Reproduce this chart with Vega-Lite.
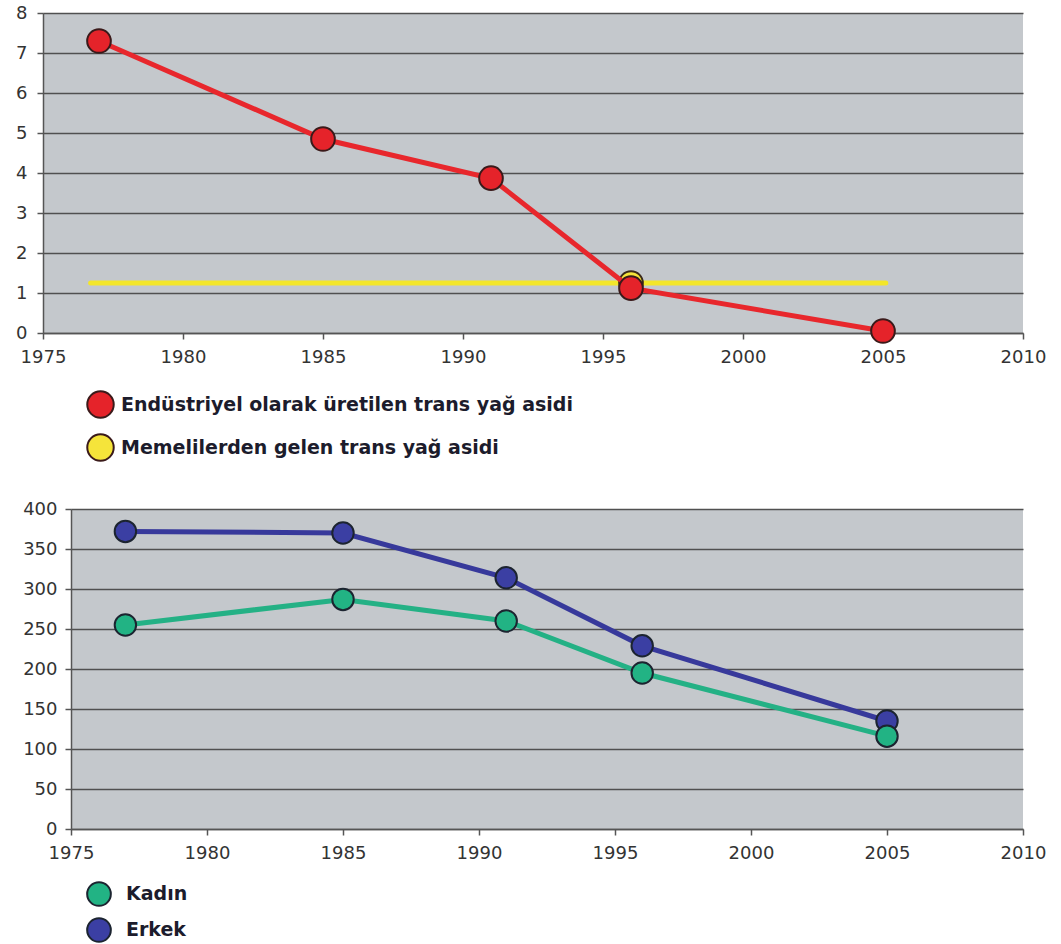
{
  "$schema": "https://vega.github.io/schema/vega-lite/v6.json",
  "background": "white",
  "padding": {"left": 15, "top": 4, "right": 5, "bottom": 0},
  "spacing": 35,
  "resolve": {"scale": {"fill": "independent"}},
  "datasets": {
    "endustriyel": [
      {"yil": 1977, "deger": 7.3, "seri": "Endüstriyel olarak üretilen trans yağ asidi"},
      {"yil": 1985, "deger": 4.85, "seri": "Endüstriyel olarak üretilen trans yağ asidi"},
      {"yil": 1991, "deger": 3.87, "seri": "Endüstriyel olarak üretilen trans yağ asidi"},
      {"yil": 1996, "deger": 1.12, "seri": "Endüstriyel olarak üretilen trans yağ asidi"},
      {"yil": 2005, "deger": 0.05, "seri": "Endüstriyel olarak üretilen trans yağ asidi"}
    ],
    "memeli_cizgi": [
      {"yil": 1976.7, "deger": 1.25, "seri": "Memelilerden gelen trans yağ asidi"},
      {"yil": 2005.1, "deger": 1.25, "seri": "Memelilerden gelen trans yağ asidi"}
    ],
    "memeli_nokta": [
      {"yil": 1996, "deger": 1.25, "seri": "Memelilerden gelen trans yağ asidi"}
    ],
    "cinsiyet": [
      {"yil": 1977, "deger": 372, "seri": "Erkek"},
      {"yil": 1985, "deger": 370, "seri": "Erkek"},
      {"yil": 1991, "deger": 314, "seri": "Erkek"},
      {"yil": 1996, "deger": 229, "seri": "Erkek"},
      {"yil": 2005, "deger": 135, "seri": "Erkek"},
      {"yil": 1977, "deger": 255, "seri": "Kadın"},
      {"yil": 1985, "deger": 287, "seri": "Kadın"},
      {"yil": 1991, "deger": 260, "seri": "Kadın"},
      {"yil": 1996, "deger": 195, "seri": "Kadın"},
      {"yil": 2005, "deger": 116, "seri": "Kadın"}
    ]
  },
  "config": {
    "view": {"stroke": null},
    "axis": {
      "title": null,
      "labelFont": "DejaVu Sans",
      "labelFontSize": 18,
      "labelColor": "#333333",
      "domainColor": "#555555",
      "domainWidth": 1.5,
      "tickColor": "#555555",
      "tickWidth": 1.5,
      "tickSize": 6,
      "gridColor": "#505050",
      "gridWidth": 1.5,
      "labelFlush": false,
      "labelOverlap": false
    },
    "legend": {
      "padding": 0,
      "symbolType": "circle",
      "symbolStrokeWidth": 2,
      "symbolOpacity": 1,
      "labelFont": "DejaVu Sans",
      "labelFontWeight": "bold",
      "labelFontSize": 19,
      "labelColor": "#1c1c2c",
      "labelLimit": 1000
    }
  },
  "vconcat": [
    {
      "width": 980,
      "height": 320,
      "view": {"fill": "#c4c8cc", "stroke": null},
      "encoding": {
        "x": {
          "field": "yil", "type": "quantitative",
          "scale": {"domain": [1975, 2010], "nice": false, "zero": false},
          "axis": {"values": [1975, 1980, 1985, 1990, 1995, 2000, 2005, 2010], "format": "d", "grid": false, "labelPadding": 9}
        },
        "y": {
          "field": "deger", "type": "quantitative",
          "scale": {"domain": [0, 8], "nice": false},
          "axis": {"values": [0, 1, 2, 3, 4, 5, 6, 7, 8], "grid": true, "labelPadding": 10}
        }
      },
      "layer": [
        {
          "data": {"name": "memeli_cizgi"},
          "mark": {"type": "line", "strokeWidth": 5, "strokeCap": "round", "stroke": "#f3e62a"},
          "encoding": {}
        },
        {
          "data": {"name": "memeli_nokta"},
          "mark": {"type": "point", "filled": true, "size": 560, "stroke": "#3a2a1a", "strokeWidth": 2, "opacity": 1},
          "encoding": {
            "fill": {
              "field": "seri", "type": "nominal",
              "scale": {"domain": ["Endüstriyel olarak üretilen trans yağ asidi", "Memelilerden gelen trans yağ asidi"], "range": ["#e5232a", "#f5e43a"]},
              "legend": {"title": null, "orient": "none", "legendX": 43, "legendY": 377, "symbolSize": 700, "symbolStrokeColor": "#3a2a2a", "labelOffset": 6, "rowPadding": 8}
            }
          }
        },
        {
          "data": {"name": "endustriyel"},
          "mark": {"type": "line", "strokeWidth": 5, "stroke": "#e8272c"},
          "encoding": {}
        },
        {
          "data": {"name": "endustriyel"},
          "mark": {"type": "point", "filled": true, "size": 560, "stroke": "#3a1a1a", "strokeWidth": 2, "opacity": 1},
          "encoding": {
            "fill": {"field": "seri", "type": "nominal"}
          }
        }
      ]
    },
    {
      "spacing": -22,
      "hconcat": [
        {
          "width": 1,
          "height": 1,
          "view": {"fill": null, "stroke": null},
          "data": {"values": []},
          "mark": {"type": "point", "opacity": 0}
        },
        {
          "width": 952,
          "height": 320,
          "view": {"fill": "#c4c8cc", "stroke": null},
          "data": {"name": "cinsiyet"},
          "encoding": {
            "x": {
              "field": "yil", "type": "quantitative",
              "scale": {"domain": [1975, 2010], "nice": false, "zero": false},
              "axis": {"values": [1975, 1980, 1985, 1990, 1995, 2000, 2005, 2010], "format": "d", "grid": false, "labelPadding": 9}
            },
            "y": {
              "field": "deger", "type": "quantitative",
              "scale": {"domain": [0, 400], "nice": false},
              "axis": {"values": [0, 50, 100, 150, 200, 250, 300, 350, 400], "grid": true, "labelPadding": 8}
            }
          },
          "layer": [
            {
              "transform": [{"filter": "datum.seri === 'Erkek'"}],
              "mark": {"type": "line", "strokeWidth": 5, "stroke": "#37399b"},
              "encoding": {}
            },
            {
              "transform": [{"filter": "datum.seri === 'Kadın'"}],
              "mark": {"type": "line", "strokeWidth": 5, "stroke": "#24b185"},
              "encoding": {}
            },
            {
              "mark": {"type": "point", "filled": true, "size": 460, "stroke": "#1c2430", "strokeWidth": 2, "opacity": 1},
              "encoding": {
                "fill": {
                  "field": "seri", "type": "nominal",
                  "scale": {"domain": ["Kadın", "Erkek"], "range": ["#22b384", "#3b3fa3"]},
                  "legend": {
                    "title": null, "orient": "none",
                    "legendX": 43, "legendY": 372, "symbolSize": 560, "symbolStrokeColor": "#1c2430",
                    "labelOffset": 14, "rowPadding": 4
                  }
                }
              }
            }
          ]
        }
      ]
    }
  ]
}
